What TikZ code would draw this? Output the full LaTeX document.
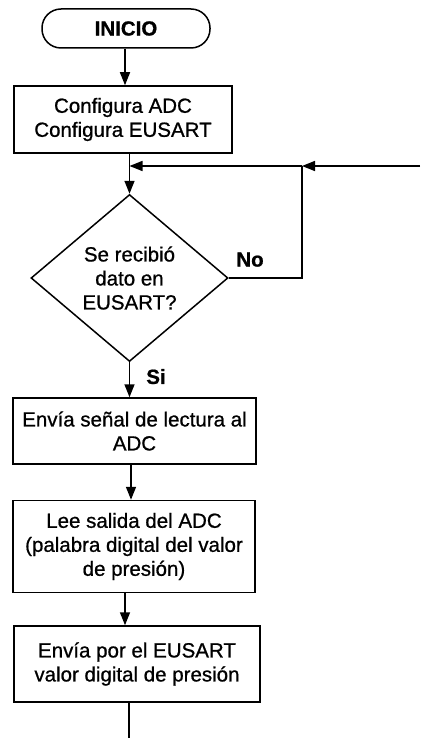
\documentclass[tikz,border=0pt]{standalone}
\usepackage{fontspec}
\setmainfont{Liberation Sans}[FakeBold=0.8]
\newfontfamily\labelfont{Liberation Sans}[Weight=Bold]
\usetikzlibrary{shapes.geometric,arrows.meta,calc}
\begin{document}
\begin{tikzpicture}[x=1pt,y=-1pt,
  every node/.style={font=\fontsize{20.5}{24}\selectfont, align=center, inner sep=0pt},
  ln/.style={line width=1.5pt, line join=miter},
  arr/.style={ln, -{Triangle[length=13pt,width=10pt]}},
  procbox/.style={draw, ln, rectangle},
  termbox/.style={draw, ln, rectangle, rounded corners=19pt},
  decbox/.style={draw, ln, diamond, aspect=1.18},
  lbl/.style={font=\fontsize{20.5}{24}\selectfont\bfseries}
]
\useasboundingbox (0,0) rectangle (420,738);
\fill[white] (0,0) rectangle (420,738);

% nodes
\node[termbox, minimum width=168pt, minimum height=39pt, font=\fontsize{20.5}{24}\selectfont\bfseries] (t) at (126,28.5) {INICIO};
\node[procbox, minimum width=218pt, minimum height=67pt] (b1) at (123,119.5) {Configura ADC\\Configura EUSART};
\node[decbox, minimum width=197pt, minimum height=167pt] (d) at (129.5,278) {Se recibió\\dato en\\EUSART?};
\node[procbox, minimum width=243pt, minimum height=66pt] (b2) at (134.5,431) {Envía señal de lectura al\\ADC};
\node[procbox, minimum width=242pt, minimum height=92pt] (b3) at (134,546.5) {Lee salida del ADC\\(palabra digital del valor\\de presión)};
\node[procbox, minimum width=246pt, minimum height=76pt] (b4) at (137,664) {Envía por el EUSART\\valor digital de presión};

\node[lbl] (no) at (250,259.6) {No};
\node[lbl] (si) at (156,376.6) {Si};

% helper coordinates
\coordinate (xa) at (125,0);
\coordinate (xb) at (131,0);
\coordinate (xc) at (129,0);
\coordinate (lc) at (302,166);
\coordinate (j) at (129.5,166);
\coordinate (ext) at (420,166);
\coordinate (endc) at (129,738);

% connectors
\draw[arr] (t.south -| xa) -- (b1.north -| xa);
\draw[arr] (b1.south -| d.north) -- (d.north);
\draw[arr] (d.south) -- (b2.north -| d.south);
\draw[arr] (b2.south -| xb) -- (b3.north -| xb);
\draw[arr] (b3.south -| xa) -- (b4.north -| xa);
\draw[ln] (b4.south -| xc) -- (endc);

\draw[ln] (d.east) -- (d.east -| lc) -- (lc);
\draw[arr] (lc) -- (j);
\draw[arr] (ext) -- (lc);
\end{tikzpicture}
\end{document}
